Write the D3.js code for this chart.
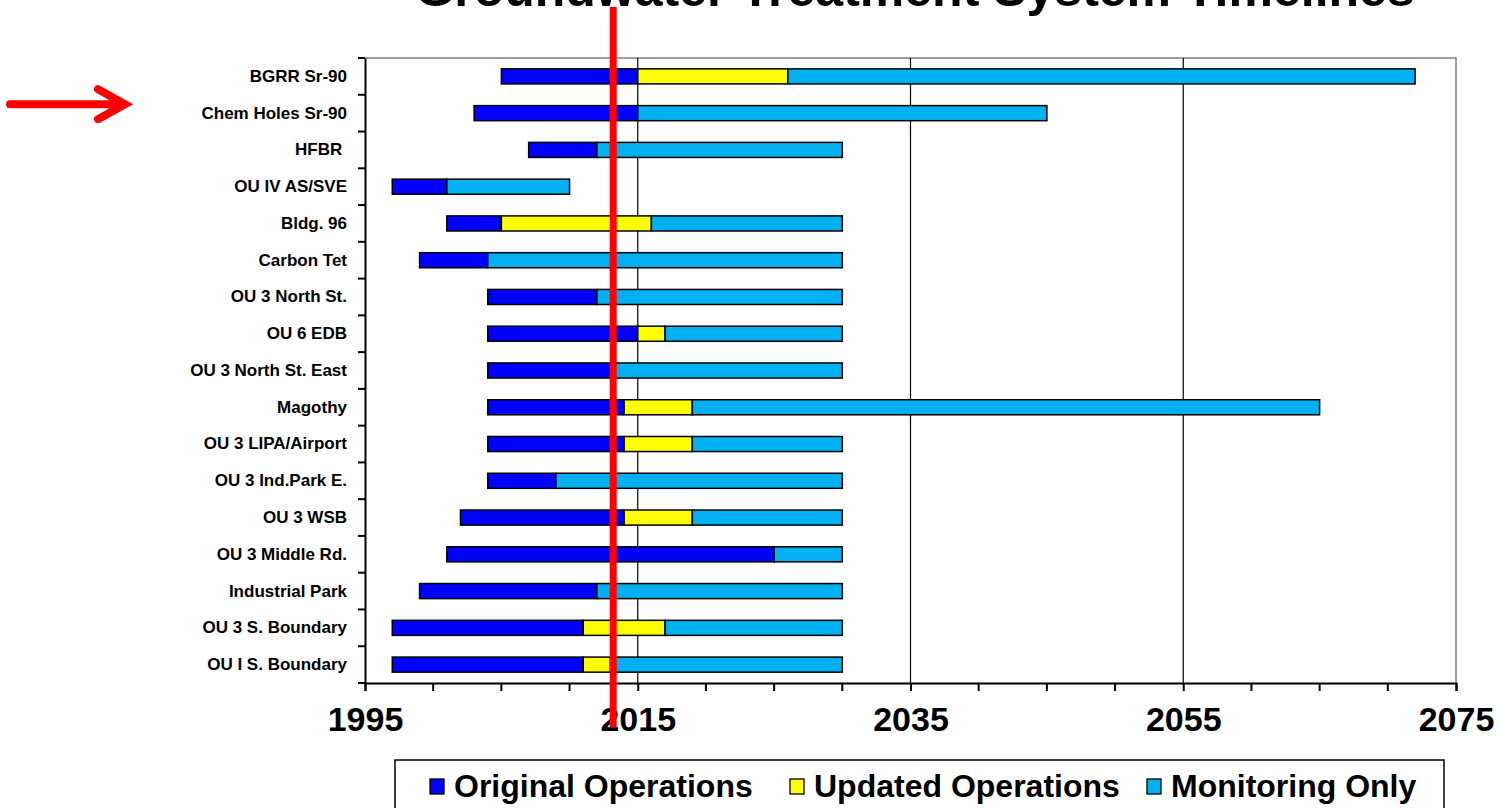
<!DOCTYPE html>
<html>
<head>
<meta charset="utf-8">
<script src="https://cdn.jsdelivr.net/npm/d3@7"></script>
<style>
  body { margin: 0; background: #fff; }
  text { font-family: Arial, "Liberation Sans", sans-serif; }
</style>
</head>
<body>
<div class="result"></div>
<script>
// Systems, top to bottom
const systems = ['BGRR Sr-90', 'Chem Holes Sr-90', 'HFBR\u00a0', 'OU IV AS/SVE', 'Bldg. 96', 'Carbon Tet',
  'OU 3 North St.', 'OU 6 EDB', 'OU 3 North St. East', 'Magothy', 'OU 3 LIPA/Airport', 'OU 3 Ind.Park E.',
  'OU 3 WSB', 'OU 3 Middle Rd.', 'Industrial Park', 'OU 3 S. Boundary', 'OU I S. Boundary'];

// Phase boundaries (years)
const startYears      = [2005, 2003, 2007, 1997, 2001, 1999, 2004, 2004, 2004, 2004, 2004, 2004, 2002, 2001, 1999, 1997, 1997];
const originalEnd     = [2015, 2015, 2012, 2001, 2005, 2004, 2012, 2015, 2013, 2014, 2014, 2009, 2014, 2025, 2012, 2011, 2011];
const updatedEnd      = [2026, 2015, 2012, 2001, 2016, 2004, 2012, 2017, 2013, 2019, 2019, 2009, 2019, 2025, 2012, 2017, 2013];
const monitoringEnd   = [2072, 2045, 2030, 2010, 2030, 2030, 2030, 2030, 2030, 2065, 2030, 2030, 2030, 2030, 2030, 2030, 2030];

const phases = ['Original Operations', 'Updated Operations', 'Monitoring Only'];
const phaseColors = ['#0000ff', '#ffff00', '#00b0f0'];
const xTicks = [1995, 2015, 2035, 2055, 2075];
const minorTicks = [2000, 2005, 2010, 2020, 2025, 2030, 2040, 2045, 2050, 2060, 2065, 2070];
const currentYear = 2013.2;
const title = 'Groundwater Treatment System Timelines';

const w = 1500;
const h = 808;
const plotLeft = 365, plotRight = 1456, plotTop = 58, plotBottom = 683;

const svg = d3.select('.result')
  .append('svg')
  .attr('width', w)
  .attr('height', h);

const x = d3.scaleLinear().domain([1995, 2075]).range([plotLeft, plotRight]);
const y = d3.scaleBand().domain(systems).range([plotTop, plotBottom]).paddingInner(0.59).paddingOuter(0.295);

// Build segments
const segments = [];
systems.forEach(function (s, i) {
  const bounds = [startYears[i], originalEnd[i], updatedEnd[i], monitoringEnd[i]];
  for (let p = 0; p < 3; p++) {
    if (bounds[p + 1] > bounds[p]) {
      segments.push({ sys: s, phase: p, x0: bounds[p], x1: bounds[p + 1] });
    }
  }
});

// Title (cut off at top, as in the original)
svg.append('text')
  .attr('x', 915)
  .attr('y', 6)
  .attr('text-anchor', 'middle')
  .attr('font-size', 50)
  .attr('font-weight', 'bold')
  .text(title);

// Plot border (top/right)
svg.append('path')
  .attr('d', 'M' + plotLeft + ',' + plotTop + 'H' + plotRight + 'V' + plotBottom)
  .attr('fill', 'none')
  .attr('stroke', '#808080')
  .attr('stroke-width', 1.5);

// Gridlines
svg.selectAll('line.grid')
  .data(xTicks.slice(1, -1))
  .enter()
  .append('line')
  .attr('class', 'grid')
  .attr('x1', d => x(d)).attr('x2', d => x(d))
  .attr('y1', plotTop).attr('y2', plotBottom)
  .attr('stroke', '#000')
  .attr('stroke-width', 1.2);

// Bars
svg.selectAll('rect.bar')
  .data(segments)
  .enter()
  .append('rect')
  .attr('class', 'bar')
  .attr('x', d => x(d.x0))
  .attr('y', d => y(d.sys))
  .attr('width', d => x(d.x1) - x(d.x0))
  .attr('height', y.bandwidth())
  .attr('fill', d => phaseColors[d.phase])
  .attr('stroke', '#000')
  .attr('stroke-width', 1.5);

// Y axis
const yAxis = d3.axisLeft(y).tickSize(0).tickPadding(18);
const gy = svg.append('g')
  .attr('transform', 'translate(' + plotLeft + ',0)')
  .call(yAxis);
gy.select('.domain').attr('stroke', '#000').attr('stroke-width', 2);
gy.selectAll('text')
  .attr('font-size', 17)
  .attr('font-weight', 'bold')
  .attr('fill', '#000')
  .style('white-space', 'pre');

// Y boundary ticks
const bstep = (plotBottom - plotTop) / systems.length;
svg.selectAll('line.ytick')
  .data(d3.range(systems.length + 1))
  .enter()
  .append('line')
  .attr('class', 'ytick')
  .attr('x1', plotLeft - 7).attr('x2', plotLeft)
  .attr('y1', d => plotTop + d * bstep).attr('y2', d => plotTop + d * bstep)
  .attr('stroke', '#000')
  .attr('stroke-width', 2);

// X axis
const xAxis = d3.axisBottom(x).tickValues(xTicks).tickFormat(d3.format('d')).tickSize(8).tickPadding(16);
const gx = svg.append('g')
  .attr('transform', 'translate(0,' + plotBottom + ')')
  .call(xAxis);
gx.select('.domain').attr('stroke', '#000').attr('stroke-width', 2);
gx.selectAll('.tick line').attr('stroke', '#000').attr('stroke-width', 2);
gx.selectAll('text')
  .attr('font-size', 34)
  .attr('font-weight', 'bold')
  .attr('fill', '#000');

gx.selectAll('line.minor')
  .data(minorTicks)
  .enter()
  .append('line')
  .attr('class', 'minor')
  .attr('x1', d => x(d)).attr('x2', d => x(d))
  .attr('y1', 0).attr('y2', 8)
  .attr('stroke', '#000')
  .attr('stroke-width', 2);

// Current-year marker
svg.append('line')
  .attr('x1', x(currentYear)).attr('x2', x(currentYear))
  .attr('y1', 7).attr('y2', 727)
  .attr('stroke', '#ff0000')
  .attr('stroke-width', 7);

// Red arrow pointing to Chem Holes Sr-90
const ay = y('Chem Holes Sr-90') + y.bandwidth() / 2 - 9;
svg.append('path')
  .attr('d', 'M10,' + ay + 'H122 M98,' + (ay - 15) + 'L125,' + ay + 'L98,' + (ay + 15))
  .attr('fill', 'none')
  .attr('stroke', '#ff0000')
  .attr('stroke-width', 8)
  .attr('stroke-linecap', 'round')
  .attr('stroke-linejoin', 'miter');

// Legend
svg.append('rect')
  .attr('x', 395).attr('y', 760)
  .attr('width', 1049).attr('height', 70)
  .attr('fill', '#fff')
  .attr('stroke', '#000')
  .attr('stroke-width', 1.5);

const legendX = [430, 790, 1147];
const lg = svg.selectAll('g.legend')
  .data(phases)
  .enter()
  .append('g')
  .attr('class', 'legend')
  .attr('transform', (d, i) => 'translate(' + legendX[i] + ',779)');
lg.append('rect')
  .attr('width', 14).attr('height', 15)
  .attr('fill', (d, i) => phaseColors[i])
  .attr('stroke', '#000')
  .attr('stroke-width', 1.3);
lg.append('text')
  .attr('x', 24)
  .attr('y', 18)
  .attr('font-size', 32)
  .attr('font-weight', 'bold')
  .text(d => d);
</script>
</body>
</html>
